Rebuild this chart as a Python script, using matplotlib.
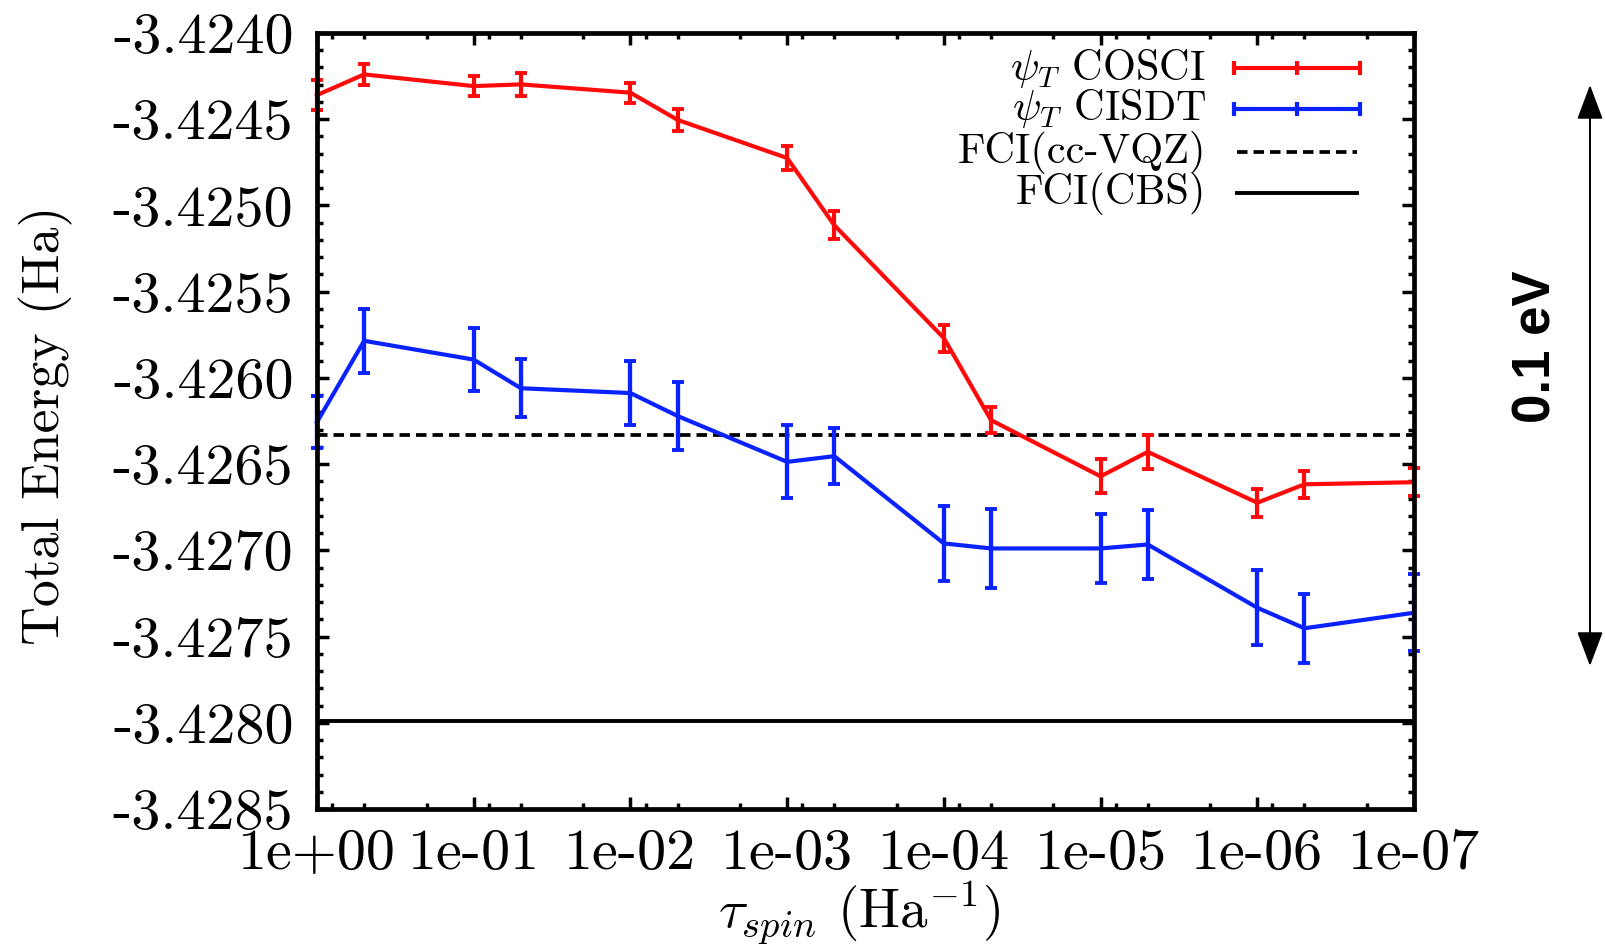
import numpy as np
import matplotlib
matplotlib.use('Agg')
import matplotlib.pyplot as plt
from matplotlib.ticker import FixedLocator, FixedFormatter, NullFormatter

# ---------------- data ----------------
tau = [1.0, 5e-1, 1e-1, 5e-2, 1e-2, 5e-3, 1e-3, 5e-4, 1e-4, 5e-5, 1e-5, 5e-6, 1e-6, 5e-7, 1e-7]
cosci_E = [-3.424360, -3.424240, -3.424308, -3.424298, -3.424346, -3.424504, -3.424725,
           -3.425115, -3.425769, -3.426245, -3.426571, -3.426429, -3.426724, -3.426617, -3.426605]
cosci_err = [0.000085, 0.000060, 0.000060, 0.000068, 0.000058, 0.000065, 0.000072,
             0.000082, 0.000078, 0.000075, 0.000098, 0.000098, 0.000082, 0.000078, 0.000082]
cisdt_E = [-3.426256, -3.425785, -3.425894, -3.426060, -3.426088, -3.426221, -3.426487,
           -3.426454, -3.426960, -3.426989, -3.426989, -3.426966, -3.427333, -3.427452, -3.427362]
cisdt_err = [0.000149, 0.000185, 0.000183, 0.000168, 0.000185, 0.000199, 0.000212,
             0.000162, 0.000217, 0.000228, 0.000201, 0.000201, 0.000218, 0.000201, 0.000222]
fci_vqz = -3.426333
fci_cbs = -3.427990

xtick_vals = [1e0, 1e-1, 1e-2, 1e-3, 1e-4, 1e-5, 1e-6, 1e-7]
xtick_labels = ['1e+00', '1e-01', '1e-02', '1e-03', '1e-04', '1e-05', '1e-06', '1e-07']
ytick_vals = [-3.4285, -3.4280, -3.4275, -3.4270, -3.4265, -3.4260, -3.4255, -3.4250, -3.4245, -3.4240]
ytick_labels = ['%.4f' % v for v in ytick_vals]

legend_labels = [r'$\psi_T$ COSCI', r'$\psi_T$ CISDT', 'FCI(cc-VQZ)', 'FCI(CBS)']

# ---------------- style ----------------
plt.rcParams['font.family'] = ['cmr10', 'DejaVu Sans']
plt.rcParams['mathtext.fontset'] = 'cm'
plt.rcParams['axes.unicode_minus'] = False
plt.rcParams['axes.formatter.use_mathtext'] = True

W, H = 1606, 947
fig = plt.figure(figsize=(W / 100, H / 100), dpi=100)
ax_l, ax_r, ax_t, ax_b = 317, 1414, 33, 809
ax = fig.add_axes([ax_l / W, 1 - ax_b / H, (ax_r - ax_l) / W, (ax_b - ax_t) / H])

RED = '#ff0a0a'
BLUE = '#0a22ff'

ax.errorbar(tau, cosci_E, yerr=cosci_err, color=RED, lw=3.0, elinewidth=3.0,
            capsize=4.6, capthick=2.8, clip_on=False, zorder=3)
ax.errorbar(tau, cisdt_E, yerr=cisdt_err, color=BLUE, lw=3.0, elinewidth=3.1,
            capsize=4.6, capthick=2.8, clip_on=False, zorder=3)
ax.axhline(fci_vqz, color='black', lw=2.7, dashes=(2.8, 1.6), zorder=2)
ax.axhline(fci_cbs, color='black', lw=2.8, zorder=2)

ax.set_xscale('log')
ax.set_xlim(1.0, 1e-7)
ax.set_ylim(-3.4285, -3.4240)

ax.xaxis.set_major_locator(FixedLocator(xtick_vals))
ax.xaxis.set_major_formatter(FixedFormatter(xtick_labels))
minor_x = [m * 10.0 ** (-k) for k in range(1, 8) for m in (8, 5, 2)]
ax.xaxis.set_minor_locator(FixedLocator(minor_x))
ax.xaxis.set_minor_formatter(NullFormatter())

ax.yaxis.set_major_locator(FixedLocator(ytick_vals))
ax.yaxis.set_major_formatter(FixedFormatter(ytick_labels))
ax.yaxis.set_minor_locator(FixedLocator(list(np.arange(-3.4285, -3.42395, 0.0001))))

for s in ax.spines.values():
    s.set_linewidth(3.4)
    s.set_zorder(5)

ax.tick_params(which='both', direction='in', top=True, right=True, width=2.5)
ax.tick_params(which='major', length=8.6)
ax.tick_params(which='minor', length=4.3)
ax.tick_params(axis='y', which='major', labelsize=41.8, pad=17)
ax.tick_params(axis='x', which='major', labelsize=41.8, pad=14)

fig.text(46 / W, 1 - 425 / H, 'Total Energy (Ha)', rotation=90, ha='center', va='center',
         fontsize=38.7)
fig.text(859 / W, 1 - 913 / H, r'$\tau_{spin}$ (Ha$^{-1}$)', ha='center', va='center',
         fontsize=39.5)

# ---------------- legend (gnuplot style: text right-aligned, sample to the right) -------------
def ax_x(px):
    return (px - ax_l) / (ax_r - ax_l)


def ax_y(py):
    return (ax_b - py) / (ax_b - ax_t)


rows_py = [68, 109, 152, 193]
txt_right = 1206
s1, s2 = 1234, 1360
styles = [dict(color=RED, err=True), dict(color=BLUE, err=True),
          dict(color='black', dashes=(2.8, 1.6), lw=2.7), dict(color='black', lw=2.8)]
for lab, py, st in zip(legend_labels, rows_py, styles):
    ax.text(ax_x(txt_right), ax_y(py), lab, transform=ax.transAxes, ha='right', va='center',
            fontsize=30.5)
    kw = dict(transform=ax.transAxes, clip_on=False, color=st['color'], zorder=6)
    if st.get('err'):
        ax.plot([ax_x(s1), ax_x(s2)], [ax_y(py)] * 2, lw=3.0, solid_capstyle='butt', **kw)
        ax.plot([ax_x(s1), ax_x((s1 + s2) / 2), ax_x(s2)], [ax_y(py)] * 3, ls='none',
                marker='|', ms=10, mew=3.0, **kw)
    elif 'dashes' in st:
        ax.plot([ax_x(s1 + 3), ax_x(s2 - 3)], [ax_y(py)] * 2, lw=st['lw'], dashes=st['dashes'], **kw)
    else:
        ax.plot([ax_x(s1 + 3), ax_x(s2 - 3)], [ax_y(py)] * 2, lw=st['lw'], **kw)

# ---------------- 0.1 eV annotation ----------------
ax.annotate('', xy=(1590 / W, 1 - 85 / H), xytext=(1590 / W, 1 - 666 / H),
            xycoords='figure fraction', textcoords='figure fraction', annotation_clip=False,
            arrowprops=dict(arrowstyle='<|-|>,head_length=1.2,head_width=0.45',
                            mutation_scale=18, lw=1.4, color='black', shrinkA=0, shrinkB=0))
fig.text(1537 / W, 1 - 347 / H, '0.1 eV', rotation=90, ha='center', va='center',
         fontsize=38, fontweight='bold', family=['Liberation Sans', 'DejaVu Sans'])

fig.savefig('out.png', dpi=100, facecolor='white')
